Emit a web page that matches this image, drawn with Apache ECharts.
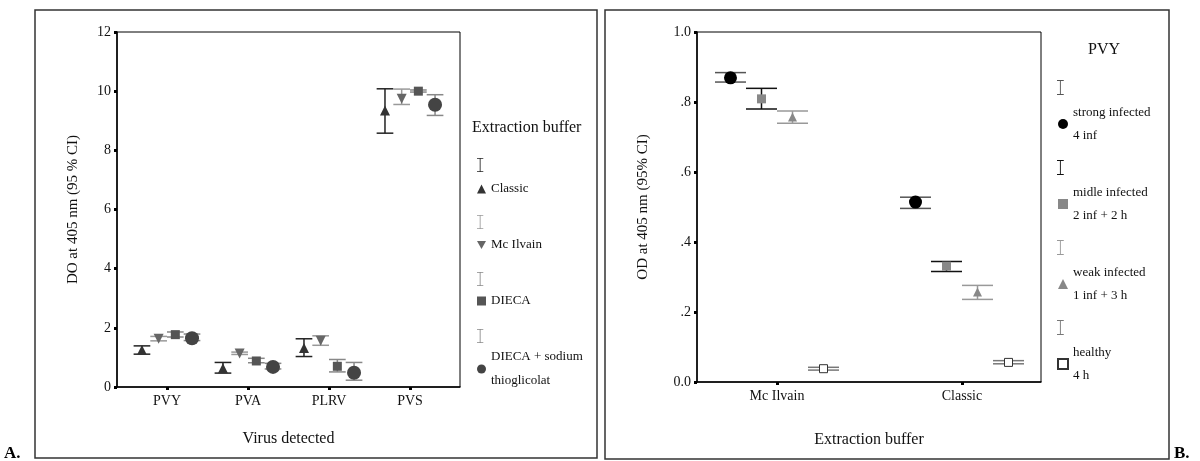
<!DOCTYPE html>
<html>
<head>
<meta charset="utf-8">
<script src="https://cdn.jsdelivr.net/npm/echarts@6/dist/echarts.min.js"></script>
<style>
  html, body { margin: 0; padding: 0; background: #fff; }
  #chart { width: 1200px; height: 461px; }
</style>
</head>
<body>
<div id="chart"></div>
<script>
// A. virus detected / extraction buffer
var leftCategories = ['PVY', 'PVA', 'PLRV', 'PVS']
var leftBuffers = ['Classic', 'Mc Ilvain', 'DIECA', 'DIECA + sodium\nthioglicolat']
var classicMean = [1.25, 0.63, 1.32, 9.35]
var classicLow = [1.11, 0.47, 1.03, 8.58]
var classicHigh = [1.39, 0.83, 1.63, 10.08]
var mcIlvainMean = [1.63, 1.13, 1.56, 9.74]
var mcIlvainLow = [1.56, 1.10, 1.41, 9.55]
var mcIlvainHigh = [1.71, 1.18, 1.73, 10.07]
var diecaMean = [1.77, 0.88, 0.70, 10.0]
var diecaLow = [1.69, 0.82, 0.51, 9.97]
var diecaHigh = [1.86, 0.97, 0.93, 10.04]
var sodiumMean = [1.65, 0.68, 0.48, 9.54]
var sodiumLow = [1.57, 0.61, 0.23, 9.18]
var sodiumHigh = [1.79, 0.80, 0.83, 9.88]
var leftTicks = [0, 2, 4, 6, 8, 10, 12]

// B. PVY infection level / extraction buffer
var rightCategories = ['Mc Ilvain', 'Classic']
var rightLevels = ['strong infected\n4 inf', 'midle infected\n2 inf + 2 h', 'weak infected\n1 inf + 3 h', 'healthy\n4 h']
var strongMean = [0.869, 0.514]
var strongLow = [0.857, 0.496]
var strongHigh = [0.884, 0.528]
var midleMean = [0.809, 0.331]
var midleLow = [0.780, 0.316]
var midleHigh = [0.839, 0.344]
var weakMean = [0.757, 0.257]
var weakLow = [0.739, 0.236]
var weakHigh = [0.774, 0.276]
var healthyMean = [0.038, 0.056]
var healthyLow = [0.034, 0.052]
var healthyHigh = [0.042, 0.061]
var rightTicks = [0, 0.2, 0.4, 0.6, 0.8, 1.0]

var FONT = 'Liberation Serif'
var IBAR = 'path://M0,0H9V1.2H5.1V18.8H9V20H0V18.8H3.9V1.2H0Z'
var DOWN = 'path://M0,0H10L5,9Z'

function points (mean, offset) {
  return mean.map(function (v, i) { return [i + 1 + offset, v] })
}
function bars (low, high, offset) {
  return low.map(function (v, i) { return [i + 1 + offset, v, high[i]] })
}
function errorSeries (name, idx, low, high, offset, spacing, color) {
  return {
    name: name,
    type: 'custom',
    xAxisIndex: idx,
    yAxisIndex: idx,
    itemStyle: { color: color },
    data: bars(low, high, offset),
    renderItem: function (params, api) {
      var x = api.value(0)
      var lo = api.coord([x, api.value(1)])
      var hi = api.coord([x, api.value(2)])
      var hw = api.size([spacing, 0])[0] / 2
      var st = { stroke: color, lineWidth: 1.5, fill: null }
      return {
        type: 'group',
        children: [
          { type: 'line', shape: { x1: lo[0], y1: lo[1], x2: hi[0], y2: hi[1] }, style: st },
          { type: 'line', shape: { x1: lo[0] - hw, y1: lo[1], x2: lo[0] + hw, y2: lo[1] }, style: st },
          { type: 'line', shape: { x1: hi[0] - hw, y1: hi[1], x2: hi[0] + hw, y2: hi[1] }, style: st }
        ]
      }
    },
    z: 2
  }
}
function markSeries (name, idx, mean, offset, symbol, size, color, extra) {
  var s = {
    name: name,
    type: 'scatter',
    xAxisIndex: idx,
    yAxisIndex: idx,
    symbol: symbol,
    symbolSize: size,
    itemStyle: { color: color, opacity: 1 },
    data: points(mean, offset),
    z: 3
  }
  for (var k in extra) s[k] = extra[k]
  return s
}

var ls = 0.206   // left series spacing (axis units)
var rs = 0.1676  // right series spacing
var leftSeries = [
  errorSeries('eb0', 0, classicLow, classicHigh, -1.5 * ls, ls, '#222'),
  errorSeries('eb1', 0, mcIlvainLow, mcIlvainHigh, -0.5 * ls, ls, '#999'),
  errorSeries('eb2', 0, diecaLow, diecaHigh, 0.5 * ls, ls, '#888'),
  errorSeries('eb3', 0, sodiumLow, sodiumHigh, 1.5 * ls, ls, '#888'),
  markSeries(leftBuffers[0], 0, classicMean, -1.5 * ls, 'triangle', 10, '#333', {}),
  markSeries(leftBuffers[1], 0, mcIlvainMean, -0.5 * ls, 'triangle', 10, '#666', { symbolRotate: 180 }),
  markSeries(leftBuffers[2], 0, diecaMean, 0.5 * ls, 'rect', 9, '#555', {}),
  markSeries(leftBuffers[3], 0, sodiumMean, 1.5 * ls, 'circle', 14, '#444', {})
]
var rightSeries = [
  errorSeries('eb4', 1, strongLow, strongHigh, -1.5 * rs, rs, '#555'),
  errorSeries('eb5', 1, midleLow, midleHigh, -0.5 * rs, rs, '#111'),
  errorSeries('eb6', 1, weakLow, weakHigh, 0.5 * rs, rs, '#999'),
  errorSeries('eb7', 1, healthyLow, healthyHigh, 1.5 * rs, rs, '#777'),
  markSeries(rightLevels[0], 1, strongMean, -1.5 * rs, 'circle', 13, '#000', {}),
  markSeries(rightLevels[1], 1, midleMean, -0.5 * rs, 'rect', 9, '#888', {}),
  markSeries(rightLevels[2], 1, weakMean, 0.5 * rs, 'triangle', 9, '#888', {}),
  markSeries(rightLevels[3], 1, healthyMean, 1.5 * rs, 'rect', 8, '#fff', {
    itemStyle: { color: '#fff', borderColor: '#333', borderWidth: 1, opacity: 1 }
  })
]

function xAxisCfg (idx, min, max, cats, name, gap) {
  var vals = cats.map(function (c, i) { return i + 1 })
  return {
    gridIndex: idx,
    type: 'value',
    min: min,
    max: max,
    name: name,
    nameLocation: 'middle',
    nameGap: gap,
    nameTextStyle: { fontFamily: FONT, fontSize: 16, color: '#111' },
    splitLine: { show: false },
    axisLine: { onZero: false, lineStyle: { color: '#000', width: 1.5 } },
    axisTick: { customValues: vals, length: 3, lineStyle: { color: '#000', width: 3 } },
    axisLabel: {
      customValues: vals,
      margin: 7,
      fontFamily: FONT,
      fontSize: 14,
      color: '#111',
      formatter: function (v) { return cats[Math.round(v) - 1] }
    }
  }
}
function yAxisCfg (idx, ticks, name, gap, fmt) {
  return {
    gridIndex: idx,
    type: 'value',
    min: ticks[0],
    max: ticks[ticks.length - 1],
    interval: ticks[1] - ticks[0],
    name: name,
    nameLocation: 'middle',
    nameGap: gap,
    nameTextStyle: { fontFamily: FONT, fontSize: 15, color: '#111' },
    splitLine: { show: false },
    axisLine: { lineStyle: { color: '#000', width: 1.5 } },
    axisTick: { length: 3, lineStyle: { color: '#000', width: 3 } },
    axisLabel: { margin: 6, fontFamily: FONT, fontSize: 14, color: '#111', formatter: fmt }
  }
}

function ibarLegend (names, left, top, gap, h) {
  return {
    orient: 'vertical',
    left: left,
    top: top,
    itemWidth: 9,
    itemHeight: h,
    itemGap: gap,
    selectedMode: false,
    padding: 0,
    formatter: function () { return '' },
    textStyle: { fontSize: 1, lineHeight: 1 },
    data: names.map(function (n) { return { name: n, icon: IBAR } })
  }
}
function markLegend (names, left, top, gap, lh, size) {
  return {
    orient: 'vertical',
    left: left,
    top: top,
    itemWidth: size,
    itemHeight: size,
    itemGap: gap,
    selectedMode: false,
    padding: 0,
    textStyle: { fontFamily: FONT, fontSize: 13, color: '#111', lineHeight: lh },
    data: names
  }
}

var leftMarkLegend = markLegend(leftBuffers, 477, 177, 32, 24, 9)
leftMarkLegend.data = leftBuffers.map(function (n, i) {
  return i === 1 ? { name: n, icon: DOWN } : { name: n }
})

var option = {
  animation: false,
  backgroundColor: '#fff',
  grid: [
    { left: 117, top: 32, width: 343, height: 355, show: true, borderColor: '#000', borderWidth: 1 },
    { left: 697, top: 32, width: 344, height: 350, show: true, borderColor: '#000', borderWidth: 1 }
  ],
  xAxis: [
    xAxisCfg(0, 0.383, 4.617, leftCategories, 'Virus detected', 44),
    xAxisCfg(1, 0.5676, 2.427, rightCategories, 'Extraction buffer', 50)
  ],
  yAxis: [
    yAxisCfg(0, leftTicks, 'DO at 405 nm (95 % CI)', 36, function (v) { return String(v) }),
    yAxisCfg(1, rightTicks, 'OD at 405 nm (95% CI)', 46, function (v) {
      if (v === 0) return '0.0'
      if (v === 1) return '1.0'
      return '.' + Math.round(v * 10)
    })
  ],
  title: [
    { text: 'Extraction buffer', left: 472, top: 120, padding: 0,
      textStyle: { fontFamily: FONT, fontSize: 16, fontWeight: 'normal', color: '#111' } },
    { text: 'PVY', left: 1104, top: 42, padding: 0, textAlign: 'center',
      textStyle: { fontFamily: FONT, fontSize: 16, fontWeight: 'normal', color: '#111' } }
  ],
  legend: [
    ibarLegend(['eb0', 'eb1', 'eb2', 'eb3'], 477, 158, 43, 14),
    leftMarkLegend,
    ibarLegend(['eb4', 'eb5', 'eb6', 'eb7'], 1057, 80, 65, 15),
    markLegend(rightLevels, 1057, 101, 34, 23, 10)
  ],
  graphic: [
    { type: 'rect', shape: { x: 35, y: 10, width: 562, height: 448 },
      style: { fill: null, stroke: '#333', lineWidth: 1.5 } },
    { type: 'rect', shape: { x: 605, y: 10, width: 564, height: 449 },
      style: { fill: null, stroke: '#333', lineWidth: 1.5 } },
    { type: 'text', left: 4, top: 445,
      style: { text: 'A.', font: 'bold 17px "Liberation Serif"', fill: '#000' } },
    { type: 'text', left: 1174, top: 445,
      style: { text: 'B.', font: 'bold 17px "Liberation Serif"', fill: '#000' } }
  ],
  series: leftSeries.concat(rightSeries)
}

var myChart = echarts.init(document.getElementById('chart'))
myChart.setOption(option)
</script>
</body>
</html>
